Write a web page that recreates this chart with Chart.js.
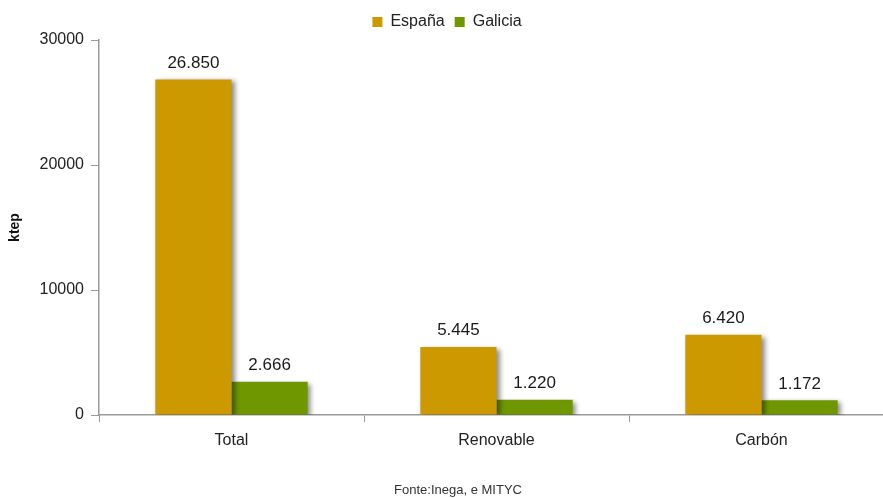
<!DOCTYPE html>
<html>
<head>
<meta charset="utf-8">
<script src="https://cdn.jsdelivr.net/npm/chart.js@4/dist/chart.umd.min.js"></script>
<style>
  html, body { margin: 0; padding: 0; background: #fff; overflow: hidden; }
  #wrap { width: 883px; height: 498px; overflow: hidden; position: relative; }
  canvas { display: block; }
</style>
</head>
<body>
<div id="wrap"><canvas id="c" width="900" height="498"></canvas></div>
<script>
// Consumo de enerxía primaria (ktep)
const categories = ['Total', 'Renovable', 'Carbón'];
const espana = [26850, 5445, 6420];
const galicia = [2666, 1220, 1172];
const yTicks = [0, 10000, 20000, 30000];
const sourceNote = 'Fonte:Inega, e MITYC';

const FONT = "'Liberation Sans', Arial, sans-serif";

function fmt(v) {
  return String(v).replace(/\B(?=(\d{3})+(?!\d))/g, '.');
}

const barShadow = {
  id: 'barShadow',
  beforeDatasetsDraw(chart) {
    const ctx = chart.ctx;
    ctx.save();
    ctx.shadowColor = 'rgba(0,0,0,0.45)';
    ctx.shadowBlur = 5;
    ctx.shadowOffsetX = 3;
    ctx.shadowOffsetY = 2;
  },
  afterDatasetsDraw(chart) {
    chart.ctx.restore();
  }
};

const valueLabels = {
  id: 'valueLabels',
  afterDatasetsDraw(chart) {
    const ctx = chart.ctx;
    ctx.save();
    ctx.font = '17px ' + FONT;
    ctx.fillStyle = '#1a1a1a';
    ctx.textAlign = 'center';
    ctx.textBaseline = 'bottom';
    chart.data.datasets.forEach((ds, i) => {
      chart.getDatasetMeta(i).data.forEach((bar, j) => {
        ctx.fillText(fmt(ds.data[j]), bar.x, bar.y - 8);
      });
    });
    ctx.font = "13px 'Liberation Sans Narrow', 'Liberation Sans', Arial, sans-serif";
    ctx.fillStyle = '#333';
    ctx.textBaseline = 'middle';
    ctx.fillText(sourceNote, 458, 490);
    ctx.restore();
  }
};

new Chart(document.getElementById('c'), {
  type: 'bar',
  data: {
    labels: categories,
    datasets: [
      { label: 'España', data: espana, backgroundColor: '#CC9A00', borderWidth: 0 },
      { label: 'Galicia', data: galicia, backgroundColor: '#6F9800', borderWidth: 0 }
    ]
  },
  options: {
    responsive: false,
    devicePixelRatio: 1,
    animation: false,
    layout: { padding: { top: 4, right: 6, bottom: 0, left: 0 } },
    datasets: { bar: { barPercentage: 1, categoryPercentage: 0.575 } },
    plugins: {
      legend: {
        position: 'top',
        align: 'center',
        labels: {
          boxWidth: 10, boxHeight: 10, padding: 10,
          color: '#222',
          font: { family: FONT, size: 16 }
        }
      },
      tooltip: { enabled: false }
    },
    scales: {
      x: {
        grid: { display: true, drawOnChartArea: false, offset: true, tickLength: 7, color: '#9a9a9a' },
        border: { color: '#9a9a9a', width: 1.5 },
        ticks: { color: '#222', font: { family: FONT, size: 16 }, padding: 9 },
        afterFit(s) { s.height = 83; }
      },
      y: {
        min: 0, max: 30000,
        afterBuildTicks(s) { s.ticks = yTicks.map(v => ({ value: v })); },
        grid: { display: true, drawOnChartArea: false, tickLength: 8, color: '#9a9a9a' },
        border: { color: '#9a9a9a', width: 1.5 },
        ticks: { color: '#222', font: { family: FONT, size: 16 }, padding: 7, callback: v => String(v) },
        title: { display: true, text: 'ktep', color: '#111', font: { family: FONT, size: 14, weight: 'bold' }, padding: { top: 7, bottom: 0 } },
        afterFit(s) { s.width = 99; }
      }
    }
  },
  plugins: [barShadow, valueLabels]
});
</script>
</body>
</html>
